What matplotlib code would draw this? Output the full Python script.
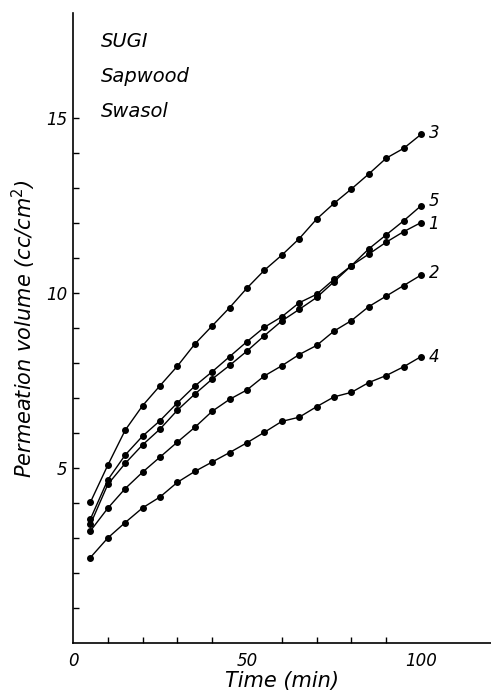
import numpy as np
import matplotlib.pyplot as plt

# permeation time (min)
time = [5, 10, 15, 20, 25, 30, 35, 40, 45, 50, 55, 60, 65, 70, 75, 80, 85, 90, 95, 100]

# permeation volume (cc/cm2)
curve1 = [3.55, 4.67, 5.38, 5.92, 6.36, 6.87, 7.35, 7.76, 8.19, 8.62,
          9.03, 9.33, 9.73, 9.97, 10.40, 10.79, 11.12, 11.46, 11.76, 12.02]
curve2 = [3.21, 3.86, 4.42, 4.89, 5.32, 5.75, 6.17, 6.63, 6.97, 7.24,
          7.64, 7.93, 8.25, 8.51, 8.92, 9.22, 9.62, 9.92, 10.22, 10.52]
curve3 = [4.03, 5.09, 6.09, 6.79, 7.36, 7.92, 8.55, 9.07, 9.59, 10.15,
          10.66, 11.09, 11.56, 12.12, 12.57, 12.98, 13.41, 13.86, 14.14, 14.54]
curve4 = [2.45, 3.01, 3.45, 3.87, 4.18, 4.60, 4.91, 5.18, 5.45, 5.73,
          6.03, 6.34, 6.46, 6.76, 7.04, 7.17, 7.45, 7.65, 7.90, 8.19]
curve5 = [3.40, 4.54, 5.14, 5.67, 6.12, 6.66, 7.12, 7.55, 7.94, 8.35,
          8.79, 9.21, 9.54, 9.88, 10.33, 10.79, 11.27, 11.67, 12.07, 12.50]

curves = {'1': curve1, '2': curve2, '3': curve3, '4': curve4, '5': curve5}
label_offset = {'1': -0.05, '2': 0.05, '3': 0.05, '4': 0.0, '5': 0.15}

x_ticks = [0, 50, 100]
y_ticks = [5, 10, 15]

fig = plt.figure(figsize=(4.91, 6.92), dpi=100)
ax = fig.add_axes([0.1487, 0.0704, 0.8505, 0.9104])

for name, vals in curves.items():
    ax.plot(time, vals, color='black', linewidth=1.0, marker='o',
            markersize=4.0, markerfacecolor='black', markeredgecolor='black')
    ax.text(time[-1] + 2.2, vals[-1] + label_offset[name], name,
            fontsize=12, style='italic', va='center', ha='left')

ax.set_xlim(0, 120)
ax.set_ylim(0, 18)

ax.spines['top'].set_visible(False)
ax.spines['right'].set_visible(False)
ax.spines['left'].set_linewidth(1.2)
ax.spines['bottom'].set_linewidth(1.2)

ax.set_xticks(x_ticks)
ax.set_xticklabels([str(t) for t in x_ticks], style='italic', fontsize=12)
ax.set_xticks(np.arange(10, 101, 10), minor=True)
ax.set_yticks(y_ticks)
ax.set_yticklabels([str(t) for t in y_ticks], style='italic', fontsize=12)
ax.set_yticks(np.arange(1, 16, 1), minor=True)
ax.tick_params(which='both', direction='in', length=4, width=1.0, pad=4)
ax.tick_params(axis='x', which='major', length=0, pad=6)

ax.set_xlabel('Time (min)', style='italic', fontsize=15, labelpad=1)
ax.set_ylabel('Permeation volume (cc/cm$^2$)', style='italic', fontsize=15, labelpad=6)

for i, txt in enumerate(['SUGI', 'Sapwood', 'Swasol']):
    ax.text(8, 17.2 - i * 1.0, txt, style='italic', fontsize=14, va='center')

fig.savefig('out.png', dpi=100)
